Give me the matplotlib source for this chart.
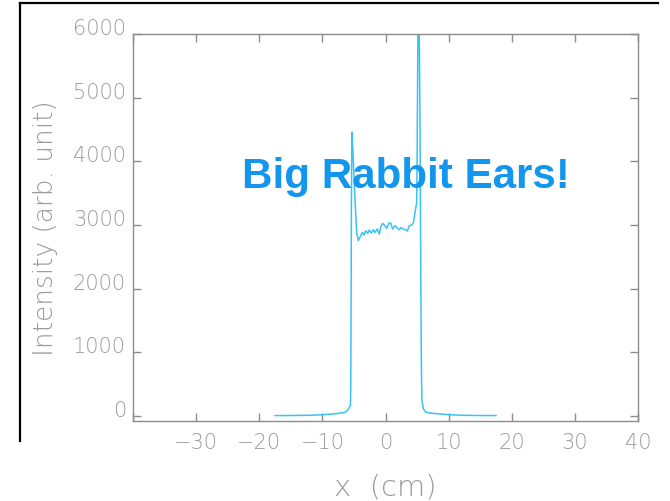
import matplotlib
matplotlib.use("Agg")
import matplotlib.pyplot as plt
from matplotlib.lines import Line2D

# Beam intensity profile across the transverse coordinate
x_cm = [-17.5, -15.0, -12.5, -10.4, -8.3, -7.0, -6.4, -5.9, -5.55, -5.5, -5.45,
        -5.4, -5.35, -5.3, -5.1, -4.83, -4.57, -4.31,
        -3.93, -3.67, -3.41, -3.14, -2.82, -2.56, -2.25, -1.93, -1.66, -1.29,
        -0.98, -0.77, -0.45, -0.08, 0.18, 0.55, 0.82, 1.13, 1.50, 1.77, 2.14,
        2.45, 2.82, 3.14, 3.45, 3.77, 4.15, 4.41, 4.68, 4.94,
        5.0, 5.1, 5.2, 5.3, 5.45, 5.55, 5.65, 5.72, 5.78, 6.0, 6.4, 7.0, 8.6,
        10.7, 12.5, 15.0, 17.5]
intensity = [5, 6, 9, 16, 31, 45, 58, 100, 170, 500, 1800,
             3300, 4200, 4460, 4000, 3406, 2884, 2752,
             2831, 2884, 2841, 2909, 2868, 2920, 2873, 2925, 2884, 2936,
             2857, 2962, 3025, 2988, 2946, 3030, 3030, 2936, 2988, 2962, 2925,
             2957, 2936, 2925, 2904, 2988, 2999, 3030, 3198, 3355,
             4000, 5500, 7000, 6500, 4800, 3000, 1200, 500, 230, 110, 58, 45, 31,
             16, 9, 6, 5]

x_ticks = [-40, -30, -20, -10, 0, 10, 20, 30, 40]
x_ticklabels = ["", "\u221230", "\u221220", "\u221210", "0", "10", "20", "30", "40"]
y_ticks = [0, 1000, 2000, 3000, 4000, 5000, 6000]
y_ticklabels = ["0", "1000", "2000", "3000", "4000", "5000", "6000"]

axis_grey = "#8c8c8c"
text_grey = "#9a9a9a"
line_blue = "#38c3f5"
title_blue = "#1296ee"

fig = plt.figure(figsize=(6.7, 5.02), dpi=100)
ax = fig.add_axes([133 / 670, 1 - 422 / 502, 505 / 670, 387 / 502])

ax.plot(x_cm, intensity, color=line_blue, lw=1.1)

ax.set_xlim(-40, 40)
ax.set_ylim(-80, 6000)
ax.set_xticks(x_ticks)
ax.set_xticklabels(x_ticklabels)
ax.set_yticks(y_ticks)
ax.set_yticklabels(y_ticklabels)

for side in ax.spines.values():
    side.set_color(axis_grey)
    side.set_linewidth(1.0)

ax.tick_params(axis="both", which="major", direction="in", length=6,
               width=1.0, color=axis_grey, labelcolor=text_grey,
               labelsize=15, top=True, right=True)
ax.tick_params(axis="x", pad=8)
ax.tick_params(axis="y", pad=5)
for lab in ax.get_yticklabels():
    lab.set_verticalalignment("baseline")
    lab.set_fontweight("light")
for lab in ax.get_xticklabels():
    lab.set_fontweight("light")

ax.set_xlabel("x  (cm)", fontsize=21, color=text_grey, fontweight="light")
ax.set_ylabel("Intensity (arb. unit)", fontsize=19, color=text_grey,
              fontweight="light")
ax.xaxis.set_label_coords(0.5, -0.168)
ax.xaxis.label.set_verticalalignment("center")
ax.yaxis.set_label_coords(-0.174, 0.5)
ax.yaxis.label.set_verticalalignment("center")

fig.text(242 / 670, 1 - 188 / 502, "Big Rabbit Ears!", fontsize=30.3,
         fontweight="bold", family="Liberation Sans", color=title_blue,
         ha="left", va="baseline")

# slide frame edges
fig.add_artist(Line2D([20 / 670, 20 / 670], [1 - 4 / 502, 1 - 442 / 502],
                      transform=fig.transFigure, color="black", lw=1.6))
fig.add_artist(Line2D([20 / 670, 658 / 670], [1 - 4 / 502, 1 - 4 / 502],
                      transform=fig.transFigure, color="black", lw=1.6))

fig.savefig("out.png", dpi=100)
